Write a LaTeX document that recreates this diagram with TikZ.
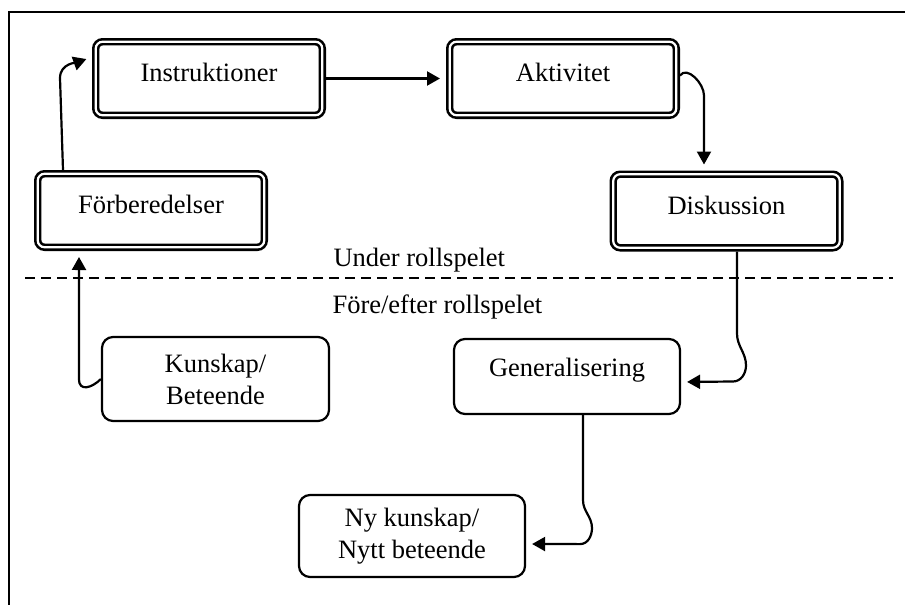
\documentclass[tikz,border=0pt]{standalone}
\usepackage{fontspec}
\setmainfont{Liberation Serif}
\usetikzlibrary{arrows.meta}

\begin{document}
\begin{tikzpicture}[x=1pt, y=1pt, font=\fontsize{26.5}{32}\selectfont,
  box/.style={draw, line width=2.2pt, rounded corners=11pt, inner sep=0pt, minimum width=226pt, minimum height=82pt},
  dbox/.style={box, double, line width=2.6pt, double distance=2.2pt, rounded corners=7pt, outer sep=3.7pt, minimum width=226.6pt, minimum height=73.6pt, text height=18pt, text depth=12pt},
  arr/.style={->, line width=2.2pt, shorten >=6pt},
  >={Triangle[length=13pt,width=14pt]}]
\useasboundingbox (0,0) rectangle (905,-605);
\draw[line width=2.2pt] (9,-605) -- (9,-12) -- (905,-12);
\node[dbox] (instr) at (209,-78.5) {Instruktioner};
\node[dbox] (akt) at (563,-78.5) {Aktivitet};
\node[dbox] (forb) at (151,-210.5) {Förberedelser};
\node[dbox] (disk) at (726.5,-211) {Diskussion};
\node[box, minimum width=227pt, minimum height=84pt, align=center] (kun) at (215.5,-379) {Kunskap/\\Beteende};
\node[box, minimum height=75pt, text height=18pt, text depth=18pt] (gen) at (567,-376.5) {Generalisering};
\node[box, align=center] (nyk) at (412,-536) {Ny kunskap/\\Nytt beteende};
\node[anchor=base west] (under) at (330,-266) {Under rollspelet};
\node[anchor=base west] (fore) at (329,-313) {Före/efter rollspelet};
\draw[line width=2.4pt, dash pattern=on 10pt off 6pt] (25,-278) -- (893,-278);
\draw[arr] ([xshift=29pt]forb.north west) -- ++(-3,92) to[out=90,in=200] ([yshift=-19pt]instr.north west);
\draw[arr] (instr) -- (akt);
\draw[arr] ([yshift=3pt]akt.east) to[out=55,in=90] ++(24,-20) -- ([xshift=-22.5pt]disk.north);
\draw[arr] ([xshift=10.5pt]disk.south) -- ++(0,-82) to[out=-90,in=90] ++(9,-32) to[out=-90,in=0] ++(-13,-16) -- ([yshift=-5.5pt]gen.east);
\draw[arr] ([xshift=16pt]gen.south) -- ++(0,-85) to[out=-90,in=90] ++(9,-28) to[out=-90,in=0] ++(-12,-16) -- ([yshift=-8pt]nyk.east);
\draw[arr] (kun.west) to[out=225,in=-90,looseness=1.5] ++(-22,0) -- ([xshift=-72pt]forb.south);
\end{tikzpicture}
\end{document}
